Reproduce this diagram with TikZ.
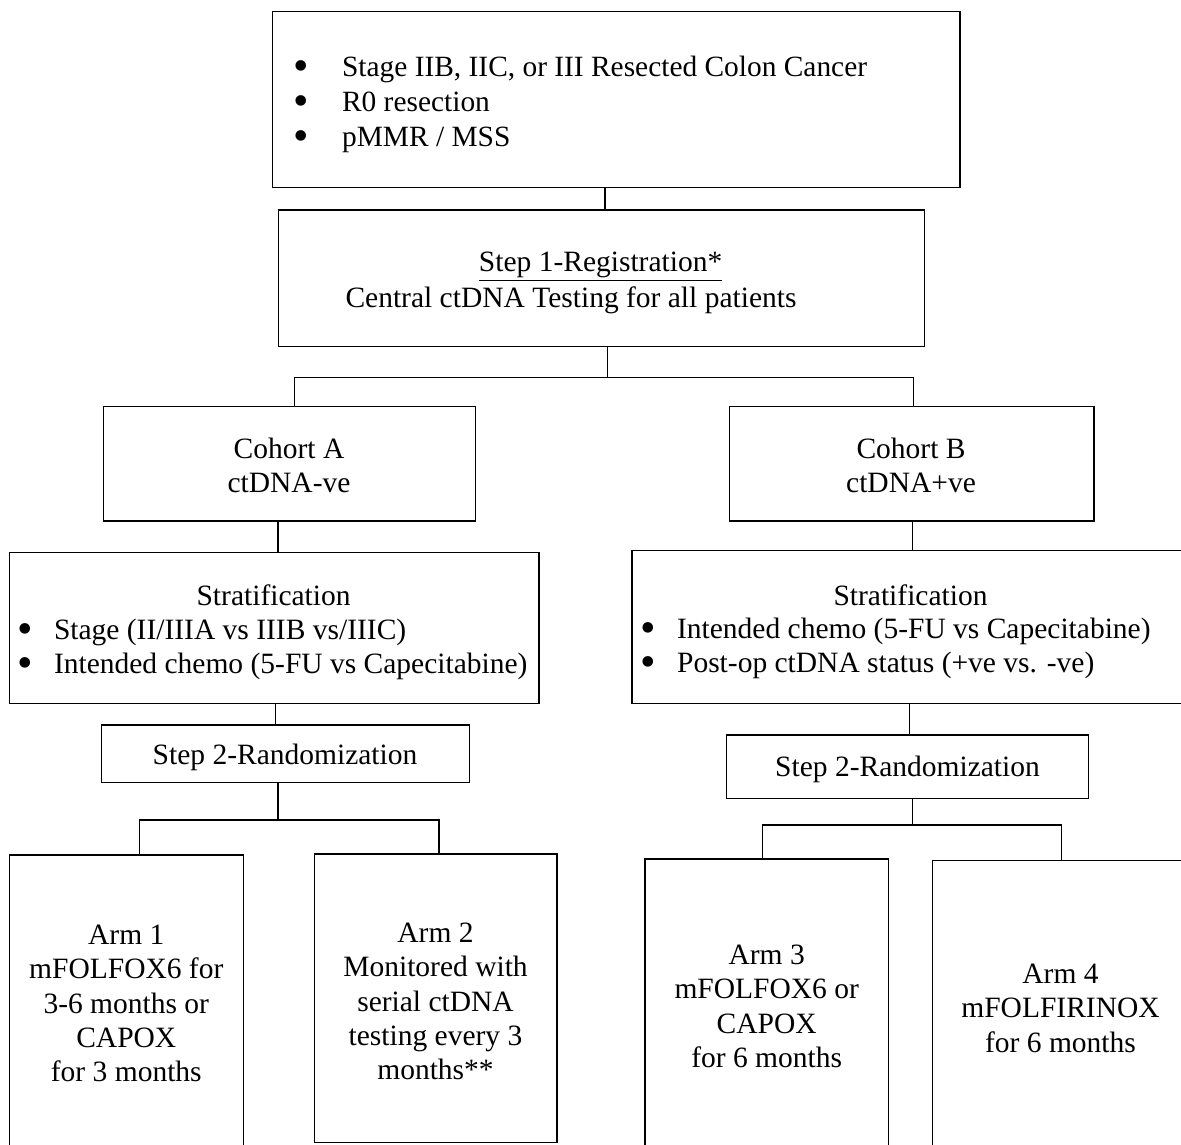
\documentclass[tikz,border=0pt]{standalone}
\usepackage{fontspec}
\setmainfont{Liberation Serif}
\usetikzlibrary{fit}
\newcommand\blt[1]{\makebox[#1][l]{\smash{\raisebox{-0.14em}{\scalebox{1.5}{\textbullet}}}}}
\begin{document}
\begin{tikzpicture}[x=0.5pt,y=-0.5pt,
  box/.style={draw, line width=0.75pt, inner sep=0pt},
  txt/.style={inner sep=0pt, font=\fontsize{14.75pt}{17.2pt}\selectfont, align=center},
  lst/.style={txt, align=left, anchor=west},
  link/.style={draw, line width=0.75pt}]
\useasboundingbox (0,0) rectangle (1181,1144);
\clip (0,0) rectangle (1181,1144);

% boxes
\node[box, fit={(272.7,11.7) (960,187.7)}] (box1) {};
\node[box, fit={(278.3,210) (924.3,346.7)}] (step1) {};
\node[box, fit={(103.3,406.7) (475.7,521)}] (cohA) {};
\node[box, fit={(729.7,406.7) (1093.9,521)}] (cohB) {};
\node[box, fit={(9.6,552.3) (538.9,703.3)}] (stratA) {};
\node[box, fit={(632.2,550.7) (1200,703.3)}] (stratB) {};
\node[box, fit={(101.4,725) (469.6,782.7)}] (s2A) {};
\node[box, fit={(726.7,735) (1088.3,798.3)}] (s2B) {};
\node[box, fit={(9.6,855) (243.4,1160)}] (arm1) {};
\node[box, fit={(314.6,854) (557.2,1142.7)}] (arm2) {};
\node[box, fit={(645.2,859) (888.6,1160)}] (arm3) {};
\node[box, fit={(932.3,860.7) (1200,1160)}] (arm4) {};

% texts
\node[lst, font=\fontsize{14.7pt}{17.5pt}\selectfont] (t1) at (293.5,104.3)
  {\blt{24.1pt}Stage IIB, IIC, or III Resected Colon Cancer\\
   \blt{24.1pt}R0 resection\\
   \blt{24.1pt}pMMR / MSS};
\node[txt] (t2a) at (600.6,266.5) {\underline{Step 1-Registration*}};
\node[txt] (t2b) at (571,300) {Central ctDNA Testing for all patients};
\node[txt] (t3) at (289,465.3) {Cohort A\\ctDNA-ve};
\node[txt] (t4) at (911,465.3) {Cohort B\\ctDNA+ve};
\node[txt] (t5a) at (273.6,595.5) {Stratification};
\node[lst] (t5b) at (17.2,649.5)
  {\blt{18.2pt}Stage (II/IIIA vs IIIB vs/IIIC)\\
   \blt{18.2pt}Intended chemo (5-FU vs Capecitabine)};
\node[txt] (t6a) at (910.5,595.5) {Stratification};
\node[lst] (t6b) at (639.8,648.5)
  {\blt{18.45pt}Intended chemo (5-FU vs Capecitabine)\\
   \blt{18.45pt}Post-op ctDNA status (+ve vs. -ve)};
\node[txt] (t7) at (285,757.5) {Step 2-Randomization};
\node[txt] (t8) at (907.5,769) {Step 2-Randomization};
\node[txt] (t9) at (126.3,1003.5) {Arm 1\\mFOLFOX6 for\\3-6 months or\\CAPOX\\for 3 months};
\node[txt] (t10) at (435.5,1001.5) {Arm 2\\Monitored with\\serial ctDNA\\testing every 3\\months**};
\node[txt] (t11) at (766.7,1006.5) {Arm 3\\mFOLFOX6 or\\CAPOX\\for 6 months};
\node[txt] (t12) at (1060.5,1008) {Arm 4\\mFOLFIRINOX\\for 6 months};

% connectors
\draw[link] (605,0 |- box1.south) -- (605,0 |- step1.north);
\coordinate (j1) at (607.3,377.7);
\draw[link] (607.3,0 |- step1.south) -- (j1);
\draw[link] (294.7,0 |- cohA.north) |- (j1) -| (913.5,0 |- cohB.north);
\draw[link] (278.2,0 |- cohA.south) -- (278.2,0 |- stratA.north);
\draw[link] (912.3,0 |- cohB.south) -- (912.3,0 |- stratB.north);
\draw[link] (275.5,0 |- stratA.south) -- (275.5,0 |- s2A.north);
\draw[link] (909.4,0 |- stratB.south) -- (909.4,0 |- s2B.north);
\coordinate (j2) at (278.2,820);
\draw[link] (278.2,0 |- s2A.south) -- (j2);
\draw[link] (139.7,0 |- arm1.north) |- (j2) -| (439,0 |- arm2.north);
\coordinate (j3) at (912.3,825);
\draw[link] (912.3,0 |- s2B.south) -- (j3);
\draw[link] (762.3,0 |- arm3.north) |- (j3) -| (1061.3,0 |- arm4.north);
\end{tikzpicture}
\end{document}
